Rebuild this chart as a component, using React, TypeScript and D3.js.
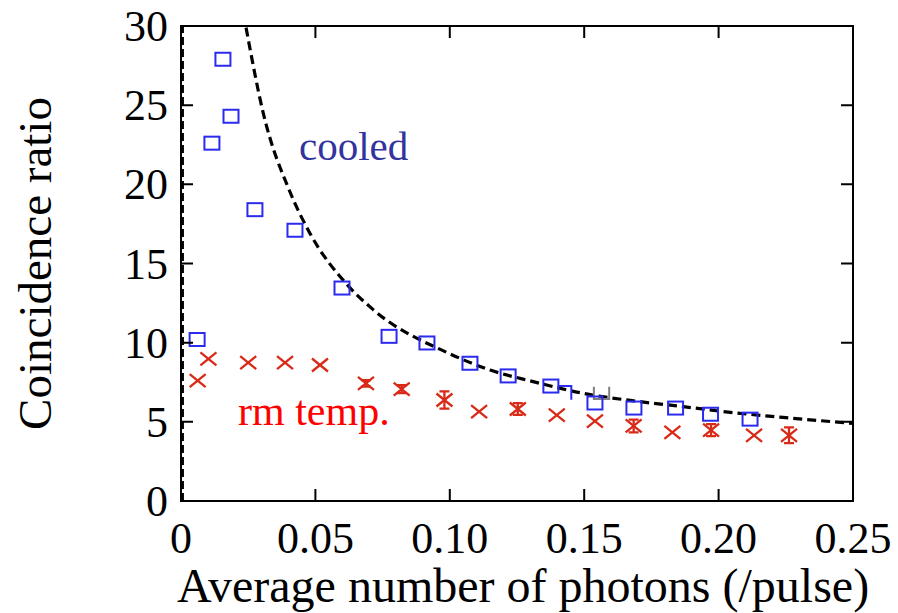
import React from 'react';
import * as d3 from 'd3';

// cooled detector: [mu, ratio]
const cooledX = [0.006, 0.0115, 0.0156, 0.0186, 0.0275, 0.0424, 0.0599, 0.0774, 0.0915, 0.1075, 0.1217, 0.1376, 0.154, 0.1685, 0.184, 0.197, 0.2117];
const cooledY = [10.2, 22.6, 27.9, 24.3, 18.4, 17.1, 13.45, 10.4, 9.98, 8.7, 7.9, 7.26, 6.19, 5.87, 5.87, 5.48, 5.17];

// room temperature: [mu, ratio, error]
const roomX = [0.0062, 0.0102, 0.025, 0.0387, 0.0517, 0.0688, 0.0821, 0.098, 0.1109, 0.1253, 0.1398, 0.154, 0.1684, 0.1828, 0.1972, 0.2132, 0.2262];
const roomY = [7.6, 8.97, 8.74, 8.74, 8.59, 7.43, 7.06, 6.38, 5.64, 5.81, 5.43, 5.05, 4.74, 4.34, 4.48, 4.15, 4.15];
const roomErr = [0, 0, 0, 0, 0, 0.2, 0.25, 0.55, 0.1, 0.37, 0.1, 0.1, 0.4, 0.1, 0.38, 0.1, 0.5];

// theory curve
const fitX = [0.0242, 0.0306, 0.0406, 0.048, 0.0616, 0.0714, 0.1, 0.115, 0.131, 0.1496, 0.1695, 0.1868, 0.2054, 0.224, 0.25];
const fitY = [29.9, 24.5, 19.5, 16.9, 13.7, 12.1, 9.3, 8.27, 7.54, 6.8, 6.3, 5.96, 5.58, 5.28, 4.9];

// near-vertical curve hugging the y axis
const steepX = [0.0005, 0.0005];
const steepY = [0, 30];

// stray marks in the original
const strayBlue = [[0.1402, 7.26], [0.1452, 7.26], [0.1452, 6.4]];
const strayGray = [[0.1536, 7.22], [0.1536, 6.44], [0.1593, 6.44], [0.1593, 7.22]];

const xTicks = [0, 0.05, 0.1, 0.15, 0.2, 0.25];
const xTickLabels = ['0', '0.05', '0.10', '0.15', '0.20', '0.25'];
const yTicks = [0, 5, 10, 15, 20, 25, 30];

const W = 898;
const H = 613;
const margin = { left: 181, right: 45, top: 26, bottom: 112 };
const font = '"Liberation Serif", "Times New Roman", serif';

export default function App() {
  const x = d3.scaleLinear().domain([0, 0.25]).range([margin.left, W - margin.right]);
  const y = d3.scaleLinear().domain([0, 30]).range([H - margin.bottom, margin.top]);
  const x0 = x(0), x1 = x(0.25), y0 = y(0), y1 = y(30);
  const tick = 12;

  const line = d3.line<number[]>().x(d => x(d[0])).y(d => y(d[1]));
  const fitPath = d3.line<number>().x((_, i) => x(fitX[i])).y(d => y(d)).curve(d3.curveMonotoneX)(fitY);
  const steepPath = line(steepX.map((v, i) => [v, steepY[i]]));

  return (
    <svg width={W} height={H} style={{ position: 'absolute', left: 0, top: 0, background: '#fff' }} fontFamily={font}>
      <defs>
        <clipPath id="plot">
          <rect x={x0} y={y1} width={x1 - x0} height={y0 - y1} />
        </clipPath>
      </defs>

      {/* dashed curves */}
      <g clipPath="url(#plot)" fill="none" stroke="#000" strokeWidth={3.2} strokeDasharray="9 5">
        <path d={fitPath || ''} />
        <path d={steepPath || ''} strokeDasharray="8 4" />
      </g>

      {/* stray marks */}
      <path d={line(strayBlue) || ''} fill="none" stroke="#2b2bf0" strokeWidth={2} />
      <path d={line(strayGray) || ''} fill="none" stroke="#808080" strokeWidth={2} />

      {/* room temperature crosses */}
      <g stroke="#d92a18" strokeWidth={2.3} fill="none">
        {roomX.map((v, i) => {
          const cx = x(v), cy = y(roomY[i]);
          const e = roomErr[i];
          const ya = y(roomY[i] + e), yb = y(roomY[i] - e);
          return (
            <g key={i}>
              <path d={`M${cx - 8},${cy - 6.5}L${cx + 8},${cy + 6.5}M${cx - 8},${cy + 6.5}L${cx + 8},${cy - 6.5}`} />
              {e > 0.15 && (
                <path d={`M${cx},${ya}L${cx},${yb}M${cx - 5},${ya}L${cx + 5},${ya}M${cx - 5},${yb}L${cx + 5},${yb}`} />
              )}
            </g>
          );
        })}
      </g>

      {/* cooled squares */}
      <g stroke="#2b2bf0" strokeWidth={2} fill="none">
        {cooledX.map((v, i) => (
          <rect key={i} x={x(v) - 7.5} y={y(cooledY[i]) - 6.5} width={15} height={13} />
        ))}
      </g>

      {/* frame and ticks */}
      <g stroke="#000" strokeWidth={2} fill="none">
        <rect x={x0} y={y1} width={x1 - x0} height={y0 - y1} />
        {xTicks.slice(1, -1).map(t => (
          <path key={'x' + t} d={`M${x(t)},${y0}v${-tick}M${x(t)},${y1}v${tick}`} />
        ))}
        {yTicks.slice(1, -1).map(t => (
          <path key={'y' + t} d={`M${x0},${y(t)}h${tick}M${x1},${y(t)}h${-tick}`} />
        ))}
      </g>

      {/* tick labels */}
      <g fontSize={44} fill="#000">
        {xTicks.map((t, i) => (
          <text key={'xl' + t} x={x(t)} y={y0 + 52} textAnchor="middle">{xTickLabels[i]}</text>
        ))}
        {yTicks.map(t => (
          <text key={'yl' + t} x={x0 - 13} y={y(t) + 15} textAnchor="end">{t}</text>
        ))}
      </g>

      {/* axis titles */}
      <text x={(x0 + x1) / 2 + 6} y={H - 11} fontSize={48} textAnchor="middle">Average number of photons (/pulse)</text>
      <text transform={`translate(51,${(y0 + y1) / 2}) rotate(-90)`} fontSize={47} textAnchor="middle">Coincidence ratio</text>

      {/* series labels */}
      <text x={299} y={160} fontSize={41} fill="#33339e">cooled</text>
      <text x={238} y={425} fontSize={42} fill="#ff0000">rm temp.</text>
    </svg>
  );
}
